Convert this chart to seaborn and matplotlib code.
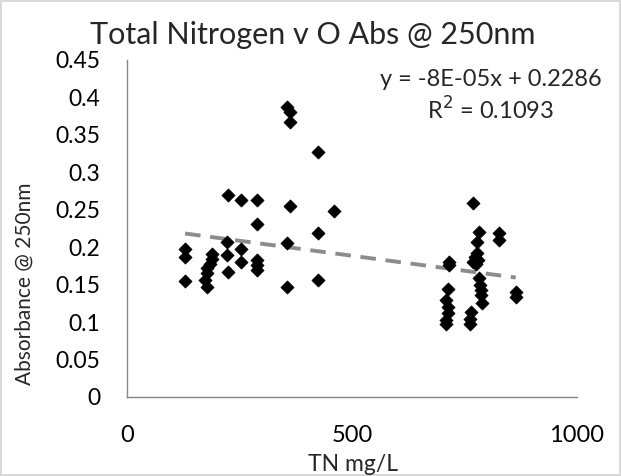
import matplotlib
matplotlib.use("Agg")
import matplotlib.pyplot as plt
import numpy as np
import pandas as pd
import seaborn as sns

# values
tn_mg_l = [129, 129, 129,
           188, 188, 184, 177, 177, 173, 177,
           225, 223, 223, 225,
           253, 253, 253,
           288, 288, 288, 288, 288,
           355, 362, 362, 362, 355, 355,
           425, 425, 425, 460,
           716, 716, 714, 710, 714, 714, 709, 709,
           764, 762, 763,
           768, 783, 778, 777, 773, 770, 781, 775,
           783, 784, 786, 787, 788,
           826, 826, 864, 864]
abs_250 = [0.197, 0.1865, 0.155,
           0.191, 0.184, 0.1776, 0.172, 0.165, 0.156, 0.147,
           0.270, 0.2065, 0.1896, 0.1665,
           0.263, 0.197, 0.180,
           0.263, 0.231, 0.183, 0.176, 0.1696,
           0.3876, 0.381, 0.367, 0.255, 0.206, 0.147,
           0.3275, 0.2185, 0.156, 0.249,
           0.1806, 0.176, 0.1438, 0.1295, 0.1206, 0.1117, 0.098, 0.103,
           0.113, 0.098, 0.104,
           0.259, 0.2207, 0.207, 0.1927, 0.1873, 0.1806, 0.183, 0.178,
           0.1585, 0.1495, 0.143, 0.136, 0.125,
           0.2194, 0.2096, 0.1406, 0.134]

# linear trendline as printed on the chart
slope = -8e-05
intercept = 0.2286
r_squared = 0.1093

df = pd.DataFrame({"TN": tn_mg_l, "Abs": abs_250})

sns.set_style("white")
plt.rcParams["font.family"] = ["Lato", "DejaVu Sans"]

fig = plt.figure(figsize=(6.21, 4.76), dpi=100)
fig.patch.set_edgecolor("#d9d9d9")
fig.patch.set_linewidth(1.5)
ax = fig.add_axes([0.2045, 0.166, 0.7245, 0.708])

sns.scatterplot(data=df, x="TN", y="Abs", marker="D", color="black",
                s=45, edgecolor="black", linewidth=0.5, ax=ax, zorder=3)

xs = np.array([min(tn_mg_l), max(tn_mg_l)])
ax.plot(xs, slope * xs + intercept, linestyle=(0, (4, 2.5)), color="#8c8c8c",
        linewidth=2.8, zorder=2)

ax.set_xlim(0, 1000)
ax.set_ylim(0, 0.45)
ax.set_xticks([0, 500, 1000])
ax.set_yticks(np.arange(0, 0.451, 0.05))
ax.set_yticklabels(["0", "0.05", "0.1", "0.15", "0.2", "0.25", "0.3", "0.35", "0.4", "0.45"])
ax.tick_params(axis="both", length=0, colors="black")
ax.tick_params(axis="x", pad=20, labelsize=17)
ax.tick_params(axis="y", pad=19, labelsize=16.5)

for side in ["top", "right"]:
    ax.spines[side].set_visible(False)
for side in ["left", "bottom"]:
    ax.spines[side].set_color("#868686")
    ax.spines[side].set_linewidth(1.0)

ax.set_xlabel("TN mg/L", fontsize=16.5)
ax.xaxis.set_label_coords(0.502, -0.17)
ax.set_ylabel("Absorbance @ 250nm", fontsize=15)
ax.yaxis.set_label_coords(-0.205, 0.335)

fig.text(0.503, 0.926, "Total Nitrogen v O Abs @ 250nm", ha="center", va="center",
         fontsize=22)
ax.text(0.809, 0.941, "y = -8E-05x + 0.2286", transform=ax.transAxes,
        ha="center", va="center", fontsize=17)
ax.text(0.809, 0.852, f"R$^2$ = {r_squared}", transform=ax.transAxes,
        ha="center", va="center", fontsize=17)

fig.savefig("out.png", dpi=100)
